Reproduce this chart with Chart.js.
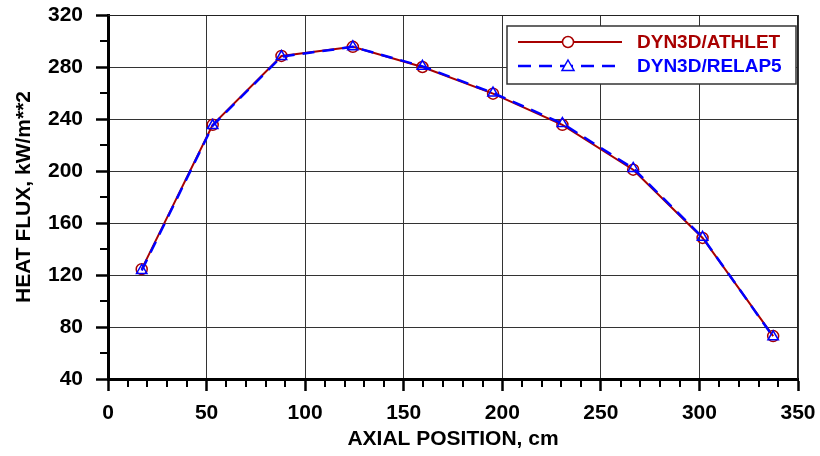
<!DOCTYPE html>
<html>
<head>
<meta charset="utf-8">
<script src="https://cdn.jsdelivr.net/npm/chart.js@4/dist/chart.umd.min.js"></script>
<style>
  html, body { margin: 0; padding: 0; background: #fff; }
  #wrap { width: 820px; height: 456px; }
</style>
</head>
<body>
<div id="wrap"><canvas id="fluxChart" width="820" height="456"></canvas></div>
<script>
// axial positions (cm) and heat flux (kW/m**2)
const positions = [17.1, 53.1, 88, 124.2, 159.5, 195.3, 230.5, 266.4, 301.6, 337.4];
const athletFlux = [124.5, 235.5, 288.5, 295.5, 280, 259.5, 235.5, 201, 148.5, 73];
const relapFlux = [123.5, 235, 288, 295.5, 280.5, 260, 236.5, 202, 149, 72.5];
const seriesNames = ["DYN3D/ATHLET", "DYN3D/RELAP5"];

const RED = "#a80000";
const BLUE = "#0000ff";
const FONT = "'Liberation Sans', Arial, sans-serif";

function toPoints(xs, ys) {
    return xs.map((x, i) => ({ x: x, y: ys[i] }));
}

// small unlabeled ticks between the major ones, plus the thin top/right frame
const minorTicks = {
    id: "minorTicks",
    afterDraw(chart) {
        const ctx = chart.ctx;
        const xs = chart.scales.x, ys = chart.scales.y;
        const area = chart.chartArea;
        ctx.save();
        ctx.strokeStyle = "#000";
        ctx.lineWidth = 2;
        for (let v = 10; v < 350; v += 10) {
            if (v % 50 === 0) continue;
            const px = Math.round(xs.getPixelForValue(v));
            ctx.beginPath();
            ctx.moveTo(px, area.bottom);
            ctx.lineTo(px, area.bottom + 8);
            ctx.stroke();
        }
        for (let v = 60; v < 320; v += 40) {
            const py = Math.round(ys.getPixelForValue(v));
            ctx.beginPath();
            ctx.moveTo(area.left - 8, py);
            ctx.lineTo(area.left, py);
            ctx.stroke();
        }
        ctx.lineWidth = 1;
        ctx.strokeStyle = "#222";
        ctx.beginPath();
        ctx.moveTo(area.left, area.top + 0.5);
        ctx.lineTo(area.right - 0.5, area.top + 0.5);
        ctx.lineTo(area.right - 0.5, area.bottom);
        ctx.stroke();
        ctx.restore();
    }
};

// boxed legend with line + marker samples
const boxLegend = {
    id: "boxLegend",
    afterDraw(chart) {
        const ctx = chart.ctx;
        const bx = 507, by = 26, bw = 289, bh = 58;
        ctx.save();
        ctx.fillStyle = "#fff";
        ctx.fillRect(bx, by, bw, bh);
        ctx.strokeStyle = "#333";
        ctx.lineWidth = 1.5;
        ctx.strokeRect(bx, by, bw, bh);

        const rows = [
            { y: 42, color: RED, dash: [], marker: "circle" },
            { y: 66, color: BLUE, dash: [13, 8], marker: "triangle" }
        ];
        rows.forEach((r, i) => {
            ctx.strokeStyle = r.color;
            ctx.lineWidth = r.dash.length ? 2.5 : 2;
            ctx.setLineDash(r.dash);
            ctx.beginPath();
            ctx.moveTo(518, r.y);
            ctx.lineTo(622, r.y);
            ctx.stroke();
            ctx.setLineDash([]);
            ctx.lineWidth = 1.5;
            ctx.fillStyle = "#fff";
            ctx.beginPath();
            if (r.marker === "circle") {
                ctx.arc(568, r.y, 5.5, 0, Math.PI * 2);
            } else {
                ctx.moveTo(568, r.y - 6);
                ctx.lineTo(574, r.y + 4.5);
                ctx.lineTo(562, r.y + 4.5);
                ctx.closePath();
            }
            ctx.fill();
            ctx.stroke();
            ctx.fillStyle = r.color;
            ctx.font = "bold 19px " + FONT;
            ctx.textBaseline = "middle";
            ctx.textAlign = "left";
            ctx.fillText(seriesNames[i], 637, r.y + 1);
        });
        ctx.restore();
    }
};

new Chart(document.getElementById("fluxChart"), {
    type: "line",
    data: {
        datasets: [
            {
                label: seriesNames[0],
                data: toPoints(positions, athletFlux),
                borderColor: RED,
                borderWidth: 2,
                pointStyle: "circle",
                pointRadius: 5.5,
                pointBorderWidth: 1.5,
                pointBackgroundColor: "rgba(255,255,255,0)",
                pointBorderColor: RED,
                tension: 0,
                order: 2
            },
            {
                label: seriesNames[1],
                data: toPoints(positions, relapFlux),
                borderColor: BLUE,
                borderWidth: 2.5,
                borderDash: [12, 8],
                pointStyle: "triangle",
                pointRadius: 6,
                pointBorderWidth: 1.5,
                pointBackgroundColor: "rgba(255,255,255,0)",
                pointBorderColor: BLUE,
                tension: 0,
                order: 1
            }
        ]
    },
    options: {
        responsive: false,
        animation: false,
        layout: { padding: { top: 15, right: 22, left: 0, bottom: 0 } },
        plugins: {
            legend: { display: false },
            tooltip: { enabled: false }
        },
        scales: {
            x: {
                type: "linear",
                min: 0,
                max: 350,
                ticks: {
                    stepSize: 50,
                    color: "#000",
                    font: { family: FONT, size: 21, weight: "bold" },
                    padding: 10,
                    maxRotation: 0
                },
                grid: { color: "#333", lineWidth: 1, tickLength: 12, tickColor: "#000", tickWidth: 2.5 },
                border: { color: "#000", width: 3 },
                title: {
                    display: true,
                    text: "AXIAL POSITION, cm",
                    color: "#000",
                    font: { family: FONT, size: 21, weight: "bold" },
                    padding: { top: 0, bottom: 4 }
                },
                afterFit(scale) {
                    scale.height = 77;
                    scale.paddingLeft = 0;
                    scale.paddingRight = 0;
                }
            },
            y: {
                min: 40,
                max: 320,
                ticks: {
                    stepSize: 40,
                    color: "#000",
                    font: { family: FONT, size: 21, weight: "bold" },
                    padding: 13
                },
                grid: { color: "#333", lineWidth: 1, tickLength: 12, tickColor: "#000", tickWidth: 2.5 },
                border: { color: "#000", width: 3 },
                title: {
                    display: true,
                    text: "HEAT FLUX, kW/m**2",
                    color: "#000",
                    font: { family: FONT, size: 21, weight: "bold" },
                    padding: { top: 12, bottom: 0 }
                },
                afterFit(scale) {
                    scale.width = 108;
                    scale.paddingTop = 0;
                    scale.paddingBottom = 0;
                }
            }
        }
    },
    plugins: [minorTicks, boxLegend]
});
</script>
</body>
</html>
